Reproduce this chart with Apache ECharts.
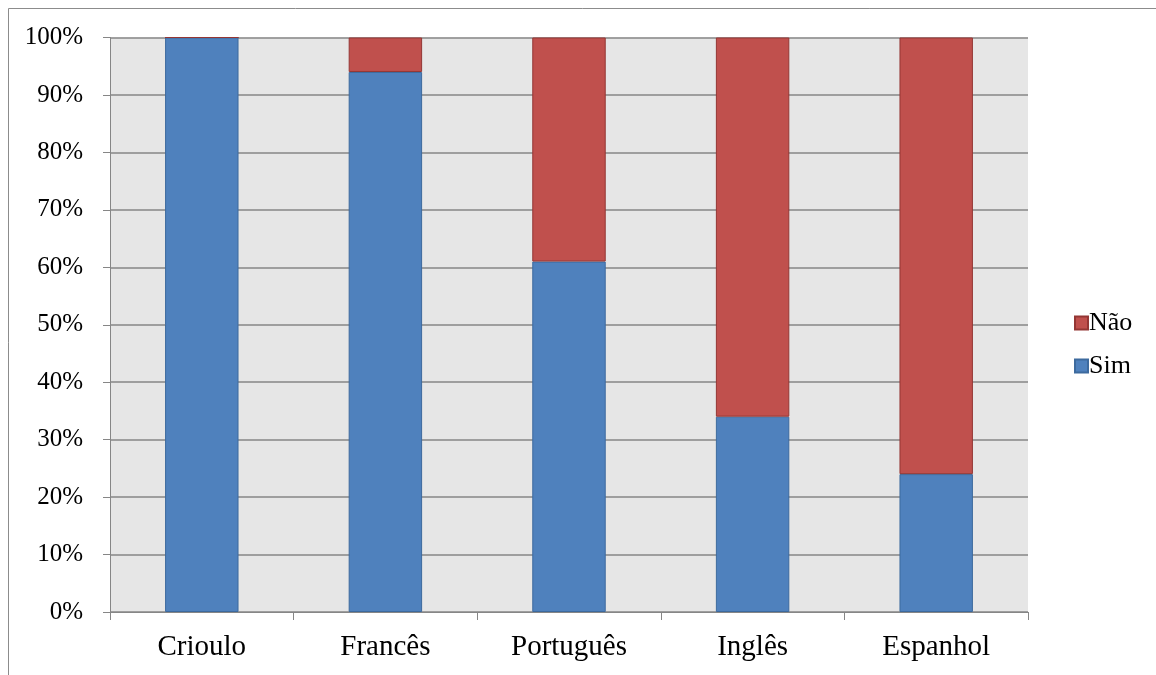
<!DOCTYPE html>
<html>
<head>
<meta charset="utf-8">
<style>
  html, body { margin: 0; padding: 0; background: #ffffff; }
  #chart { width: 1156px; height: 675px; }
</style>
<script src="https://cdn.jsdelivr.net/npm/echarts@6/dist/echarts.min.js"></script>
</head>
<body>
<div id="chart"></div>
<script>
// Languages and share of answers (percent)
const categories = ['Crioulo', 'Francês', 'Português', 'Inglês', 'Espanhol'];
const simValues = [100, 94, 61, 34, 24];
const naoValues = [0, 6, 39, 66, 76];
const yTicks = [0, 10, 20, 30, 40, 50, 60, 70, 80, 90, 100];

const FONT = '"Liberation Serif", "Times New Roman", serif';
const AXIS_GRAY = '#868686';

const chart = echarts.init(document.getElementById('chart'), null, { renderer: 'canvas' });

chart.setOption({
  animation: false,
  backgroundColor: '#ffffff',
  textStyle: { fontFamily: FONT, color: '#000000' },
  graphic: [{
    type: 'rect',
    silent: true,
    shape: { x: 8.5, y: 8.5, width: 1400, height: 1000 },
    style: { fill: 'none', stroke: '#8c8c8c', lineWidth: 1 }
  }],
  grid: {
    left: 110,
    right: 128,
    top: 37.5,
    bottom: 63,
    show: true,
    backgroundColor: '#e6e6e6',
    borderWidth: 0
  },
  legend: {
    orient: 'vertical',
    left: 1069,
    top: 305,
    itemWidth: 13,
    itemHeight: 13,
    itemGap: 17,
    icon: 'rect',
    data: ['Não', 'Sim'],
    textStyle: { fontFamily: FONT, fontSize: 26, color: '#000000', padding: [0, 0, 0, -4] }
  },
  xAxis: {
    type: 'category',
    data: categories,
    axisLine: { show: true, lineStyle: { color: AXIS_GRAY, width: 1 } },
    axisTick: { show: true, length: 8, alignWithLabel: false, lineStyle: { color: AXIS_GRAY } },
    axisLabel: { fontFamily: FONT, fontSize: 29, color: '#000000', margin: 21 },
    splitLine: { show: false }
  },
  yAxis: {
    type: 'value',
    min: 0,
    max: 100,
    interval: 10,
    axisLine: { show: true, lineStyle: { color: AXIS_GRAY, width: 1 } },
    axisTick: { show: true, length: 7, lineStyle: { color: AXIS_GRAY } },
    axisLabel: {
      fontFamily: FONT,
      fontSize: 25,
      color: '#000000',
      margin: 27,
      formatter: function (v) { return yTicks.indexOf(v) >= 0 ? v + '%' : ''; }
    },
    splitLine: { show: true, lineStyle: { color: AXIS_GRAY, width: 1.5 } }
  },
  series: [
    {
      name: 'Sim',
      type: 'bar',
      stack: 'total',
      data: simValues,
      barCategoryGap: '60%',
      itemStyle: { color: '#4f81bd', borderColor: '#3d6a9e', borderWidth: 1 }
    },
    {
      name: 'Não',
      type: 'bar',
      stack: 'total',
      data: naoValues,
      barCategoryGap: '60%',
      itemStyle: { color: '#c0504d', borderColor: '#943634', borderWidth: 1 }
    }
  ]
});
</script>
</body>
</html>
